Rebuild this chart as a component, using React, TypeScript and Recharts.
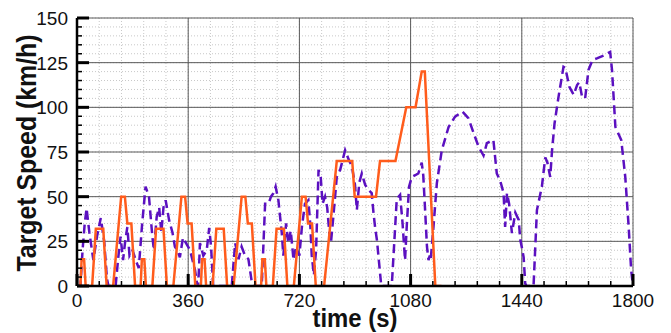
import React from 'react';
import { LineChart, Line, XAxis, YAxis, CartesianGrid } from 'recharts';

// NEDC: one ECE-15 urban cycle (repeated 4 times) + EUDC
const eceTime = [0, 11, 15, 23, 28, 49, 61, 85, 96, 117, 143, 155, 163, 176, 188, 195];
const eceSpeed = [0, 0, 15, 15, 0, 0, 32, 32, 0, 0, 50, 50, 35, 35, 0, 0];
const eceStarts = [0, 195, 390, 585];
const eudcTime = [780, 800, 841, 891, 899, 968, 981, 1031, 1066, 1096, 1116, 1126, 1160, 1180];
const eudcSpeed = [0, 0, 70, 70, 50, 50, 70, 70, 100, 100, 120, 120, 0, 0];

// WLTC
const wltcTime = [
  0, 11, 18, 25, 31, 40, 53, 65, 77, 88, 97, 102, 125, 133, 141, 149, 156, 163, 170, 180,
  190, 200, 211, 222, 233, 244, 249, 258, 266, 273, 280, 287, 298, 309, 317, 325, 333, 343, 353, 366,
  382, 388, 392, 395, 398, 409, 420, 428, 434, 441, 501, 512, 523, 533, 544, 555, 566, 571, 598, 609,
  620, 628, 636, 643, 652, 663, 668, 677, 684, 692, 701, 709, 720, 728, 738, 749, 755, 760, 767, 774,
  782, 789, 795, 803, 810, 817, 822, 830, 841, 852, 868, 879, 890, 900, 906, 914, 922, 933, 944, 954,
  960, 965, 971, 978, 985, 1019, 1035, 1041, 1046, 1054, 1062, 1068, 1075, 1084, 1095, 1105, 1116, 1121, 1127, 1133,
  1138, 1142, 1145, 1154, 1165, 1181, 1203, 1224, 1248, 1267, 1284, 1300, 1316, 1327, 1348, 1359, 1370, 1381, 1386, 1392,
  1399, 1408, 1419, 1430, 1435, 1442, 1446, 1451, 1455, 1478, 1489, 1505, 1516, 1523, 1532, 1538, 1546, 1559, 1575, 1581,
  1594, 1608, 1619, 1626, 1635, 1645, 1656, 1669, 1683, 1705, 1726, 1732, 1743, 1762, 1775, 1786, 1794, 1800,
];
const wltcSpeed = [
  0, 0, 20, 35, 43.5, 30, 14.5, 28, 38, 25, 4, 0, 0, 15, 27.6, 14.5, 25, 33, 17, 20,
  14.5, 10, 35, 55.6, 50, 27.6, 20, 38.8, 44, 30, 44, 48, 37, 30, 22, 20, 16, 27, 24, 20,
  9, 2, 0, 10, 24, 17, 20, 32.5, 22, 0, 0, 24, 15, 22, 17, 15, 2, 0, 0, 46,
  46, 50, 52, 55.6, 48, 29.6, 17, 35, 24, 31, 14.5, 22, 17, 33, 46, 48, 35, 17, 6, 20,
  65, 61, 46, 50, 44, 29.6, 24, 39, 61, 65, 76, 71, 67, 56.6, 42.5, 58, 63, 56.6, 53.7, 52,
  40.7, 33, 25.7, 13, 0, 0, 48, 50, 51, 35, 14.5, 35, 55.6, 61, 62, 63, 69, 62, 42.5, 22,
  14.5, 17, 14.5, 33, 57.6, 76, 89, 94.8, 97.6, 94, 85.6, 78, 73, 80, 81.7, 63, 59, 52, 33, 52,
  46, 29.6, 41, 37, 26, 20, 16, 1.5, 0, 0, 42.5, 55.6, 72, 69, 61, 76, 91, 106, 122.7, 122,
  111.5, 107, 112.5, 114, 106, 105, 121, 126.5, 127.4, 129, 131, 121, 89, 81.7, 61, 33, 9, 0,
];

const xMajorTicks = [0, 360, 720, 1080, 1440, 1800];
const yMajorTicks = [0, 25, 50, 75, 100, 125, 150];
const xMinorTicks = Array.from({ length: 26 }, (_, i) => i * 72);
const yMinorTicks = Array.from({ length: 31 }, (_, i) => i * 5);

const nedc = [
  ...eceStarts.flatMap((s) => eceTime.map((t, i) => ({ t: s + t, v: eceSpeed[i] }))),
  ...eudcTime.map((t, i) => ({ t, v: eudcSpeed[i] })),
];
const wltc = wltcTime.map((t, i) => ({ t, v: wltcSpeed[i] }));

const FONT = 'Arial, "Liberation Sans", sans-serif';

const XTick = (props: any) => {
  const { x, y, payload } = props;
  const v = payload.value;
  const major = xMajorTicks.includes(v);
  return (
    <g>
      <line x1={x} x2={x} y1={y} y2={y - (major ? 12 : 5)} stroke="#000" strokeWidth={major ? 3 : 1.5} />
      {major && (
        <text x={x} y={y + 21} textAnchor="middle" fontSize={19} fill="#111" fontFamily={FONT}>
          {v}
        </text>
      )}
    </g>
  );
};

const YTick = (props: any) => {
  const { x, y, payload } = props;
  const v = payload.value;
  const major = yMajorTicks.includes(v);
  return (
    <g>
      <line x1={x} x2={x + (major ? 12 : 5)} y1={y} y2={y} stroke="#000" strokeWidth={major ? 3 : 1.5} />
      {major && (
        <text x={x - 9} y={y + 7} textAnchor="end" fontSize={19} fill="#111" fontFamily={FONT}>
          {v}
        </text>
      )}
    </g>
  );
};

const XTitle = () => (
  <text x={355} y={327} textAnchor="middle" fontSize={25} fontWeight="bold" fill="#111" fontFamily={FONT}
    textLength={85} lengthAdjust="spacingAndGlyphs">
    time (s)
  </text>
);

const YTitle = () => (
  <text x={0} y={0} transform="translate(36,153) rotate(-90)" textAnchor="middle" fontSize={27} fontWeight="bold"
    fill="#111" fontFamily={FONT} textLength={237} lengthAdjust="spacingAndGlyphs">
    Target Speed (km/h)
  </text>
);

export default function App() {
  return (
    <div style={{ position: 'absolute', left: 0, top: 0, width: 671, height: 333, background: '#fff', fontFamily: FONT }}>
      <LineChart width={671} height={333} margin={{ top: 18, right: 38, left: 0, bottom: 0 }}>
        <CartesianGrid horizontalValues={yMinorTicks} verticalValues={xMinorTicks} stroke="#c8c8c8" strokeDasharray="1 2" />
        <CartesianGrid horizontalValues={yMajorTicks} verticalValues={xMajorTicks} stroke="#5a5a5a" />
        <XAxis
          type="number"
          dataKey="t"
          domain={[0, 1800]}
          ticks={xMinorTicks}
          interval={0}
          tickSize={0}
          tickMargin={0}
          height={47}
          axisLine={{ stroke: '#000', strokeWidth: 2.5 }}
          tick={XTick}
          label={<XTitle />}
          allowDataOverflow
        />
        <YAxis
          type="number"
          domain={[0, 150]}
          ticks={yMinorTicks}
          interval={0}
          width={77}
          tickSize={0}
          tickMargin={0}
          axisLine={{ stroke: '#000', strokeWidth: 2.5 }}
          tick={YTick}
          label={<YTitle />}
          allowDataOverflow
        />
        <Line data={wltc} dataKey="v" type="linear" stroke="#5b10c0" strokeWidth={2.5} strokeDasharray="9 5"
          dot={false} activeDot={false} isAnimationActive={false} />
        <Line data={nedc} dataKey="v" type="linear" stroke="#ff5c1c" strokeWidth={2.5}
          dot={false} activeDot={false} isAnimationActive={false} />
      </LineChart>
    </div>
  );
}
